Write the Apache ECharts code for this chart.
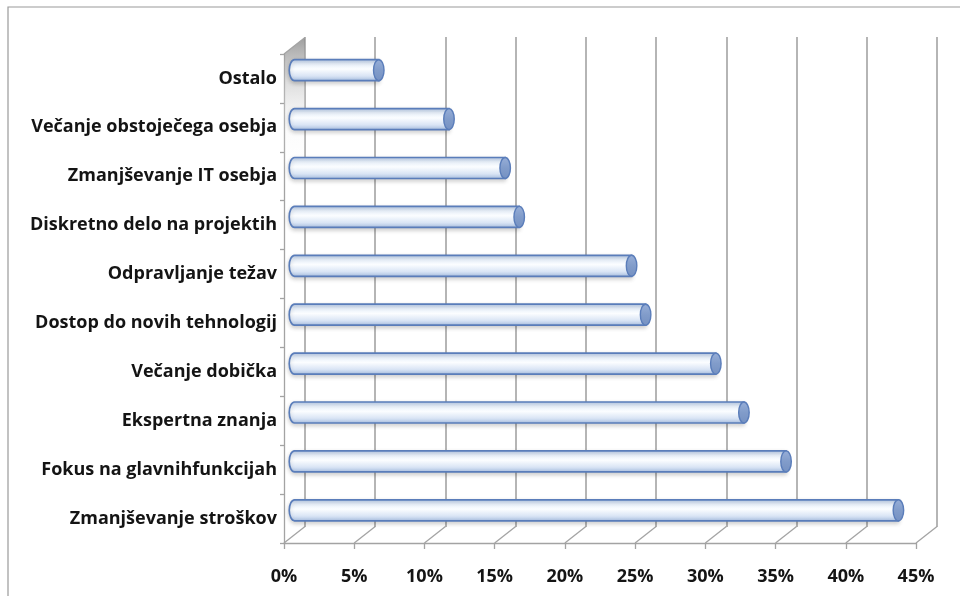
<!DOCTYPE html>
<html>
<head>
<meta charset="utf-8">
<script src="https://cdn.jsdelivr.net/npm/echarts@6/dist/echarts.min.js"></script>
<style>
  html, body { margin: 0; padding: 0; background: #ffffff; }
  #chart { width: 960px; height: 596px; }
</style>
</head>
<body>
<div id="chart"></div>
<script>
// Survey reasons, top to bottom
const categories = [
  'Ostalo',
  'Večanje obstoječega osebja',
  'Zmanjševanje IT osebja',
  'Diskretno delo na projektih',
  'Odpravljanje težav',
  'Dostop do novih tehnologij',
  'Večanje dobička',
  'Ekspertna znanja',
  'Fokus na glavnihfunkcijah',
  'Zmanjševanje stroškov'
];
// Share of respondents, percent
const values = [6, 11, 15, 16, 24, 25, 30, 32, 35, 43];
// Value axis ticks, percent
const tickValues = [0, 5, 10, 15, 20, 25, 30, 35, 40, 45];

const AXIS_MIN = 0, AXIS_MAX = 45, AXIS_STEP = 5;
// Depth offset of the back wall relative to the front plane (px)
const DEPTH_DX = 21, DEPTH_DY = -16.5;
const LINE_GRAY = '#a3a3a3';
const TEXT_COLOR = '#141414';
const FONT = '"Open Sans", "DejaVu Sans", sans-serif';

const chart = echarts.init(document.getElementById('chart'), null, { renderer: 'canvas' });

// Cylinder bar drawn at mid depth
function renderCylinder(params, api) {
  const idx = api.value(0);
  const val = api.value(1);
  const start = api.coord([0, idx]);
  const end = api.coord([val, idx]);
  const band = api.size([0, 1])[1];
  const h = band * 0.43;
  const ry = h / 2;
  const rx = ry * 0.5;
  const top = start[1] - ry, bottom = start[1] + ry;
  const x0 = start[0], x1 = end[0];
  const body = 'M' + x0 + ' ' + top + ' L' + x1 + ' ' + top + ' L' + x1 + ' ' + bottom +
    ' L' + x0 + ' ' + bottom + ' A' + rx + ' ' + ry + ' 0 0 1 ' + x0 + ' ' + top + ' Z';
  const cap = 'M' + x1 + ' ' + top + ' A' + rx + ' ' + ry + ' 0 1 1 ' + x1 + ' ' + bottom +
    ' A' + rx + ' ' + ry + ' 0 1 1 ' + x1 + ' ' + top + ' Z';
  return {
    type: 'group',
    children: [
      {
        type: 'path',
        shape: { pathData: body },
        style: {
          fill: new echarts.graphic.LinearGradient(0, 0, 0, 1, [
            { offset: 0, color: '#b1c6e6' },
            { offset: 0.22, color: '#e8f0fa' },
            { offset: 0.45, color: '#fbfdff' },
            { offset: 0.75, color: '#dae5f5' },
            { offset: 1, color: '#a5bde0' }
          ]),
          stroke: '#5a7dba',
          lineWidth: 1.7,
          shadowBlur: 4,
          shadowColor: 'rgba(0,0,0,0.18)',
          shadowOffsetY: 2
        }
      },
      {
        type: 'path',
        shape: { pathData: cap },
        style: {
          fill: new echarts.graphic.LinearGradient(0, 0, 0, 1, [
            { offset: 0, color: '#98afd8' },
            { offset: 0.5, color: '#819cca' },
            { offset: 1, color: '#7591c2' }
          ]),
          stroke: '#5a7dba',
          lineWidth: 1.4
        }
      }
    ]
  };
}

// Floor diagonals joining each front tick to the back wall
function renderFloor(params, api) {
  const v = api.value(0);
  const cs = params.coordSys;
  const x = api.coord([v, 0])[0];
  const y = cs.y + cs.height;
  return {
    type: 'line',
    shape: { x1: x, y1: y, x2: x + DEPTH_DX, y2: y + DEPTH_DY },
    style: { stroke: LINE_GRAY, lineWidth: 1.3 }
  };
}

// Left side wall with its soft shading
function renderWall(params, api) {
  const cs = params.coordSys;
  const xl = cs.x, yt = cs.y, yb = cs.y + cs.height;
  return {
    type: 'group',
    children: [
      {
        type: 'polygon',
        shape: { points: [[xl, yt], [xl + DEPTH_DX, yt + DEPTH_DY], [xl + DEPTH_DX, yb + DEPTH_DY], [xl, yb]] },
        style: {
          fill: new echarts.graphic.LinearGradient(0, 0, 0.3, 1, [
            { offset: 0, color: 'rgba(140,140,140,0.85)' },
            { offset: 0.08, color: 'rgba(185,185,185,0.55)' },
            { offset: 0.18, color: 'rgba(235,235,235,0.2)' },
            { offset: 0.3, color: 'rgba(255,255,255,0)' },
            { offset: 1, color: 'rgba(255,255,255,0)' }
          ])
        },
        silent: true
      },
      {
        type: 'line',
        shape: { x1: xl, y1: yt, x2: xl + DEPTH_DX, y2: yt + DEPTH_DY },
        style: { stroke: LINE_GRAY, lineWidth: 1.3 }
      }
    ]
  };
}

const option = {
  animation: false,
  backgroundColor: '#ffffff',
  graphic: [
    {
      type: 'rect',
      shape: { x: 8, y: 7, width: 1000, height: 700 },
      style: { fill: 'none', stroke: '#9a9a9a', lineWidth: 1.2 },
      silent: true,
      z: -10
    }
  ],
  grid: [
    // back wall
    { left: 305, right: 23, top: 37, bottom: 69 },
    // front plane
    { left: 284, right: 44, top: 54, bottom: 53 },
    // mid depth, where the cylinders sit
    { left: 294.5, right: 33.5, top: 45.75, bottom: 61.25 }
  ],
  xAxis: [
    {
      gridIndex: 0, type: 'value', min: AXIS_MIN, max: AXIS_MAX, interval: AXIS_STEP,
      axisLine: { show: false }, axisTick: { show: false }, axisLabel: { show: false },
      splitLine: { show: true, lineStyle: { color: LINE_GRAY, width: 1.6 } }
    },
    {
      gridIndex: 1, type: 'value', min: AXIS_MIN, max: AXIS_MAX, interval: AXIS_STEP,
      axisLine: { show: true, lineStyle: { color: LINE_GRAY, width: 1.3 } },
      axisTick: { show: true, length: 6, lineStyle: { color: LINE_GRAY, width: 1.3 } },
      splitLine: { show: false },
      axisLabel: {
        formatter: function (v) { return v + '%'; },
        margin: 25, color: TEXT_COLOR, fontFamily: FONT, fontWeight: 'bold', fontSize: 18
      }
    },
    {
      gridIndex: 2, type: 'value', min: AXIS_MIN, max: AXIS_MAX, interval: AXIS_STEP, show: false
    }
  ],
  yAxis: [
    { gridIndex: 0, type: 'category', data: categories, inverse: true, show: false },
    {
      gridIndex: 1, type: 'category', data: categories, inverse: true,
      axisLine: { show: true, lineStyle: { color: LINE_GRAY, width: 1.3 } },
      axisTick: { show: true, length: 4, lineStyle: { color: LINE_GRAY, width: 1.3 } },
      axisLabel: { margin: 7, color: TEXT_COLOR, fontFamily: FONT, fontWeight: 'bold', fontSize: 18 },
      splitLine: { show: false }
    },
    { gridIndex: 2, type: 'category', data: categories, inverse: true, show: false }
  ],
  series: [
    {
      type: 'custom', name: 'wall', xAxisIndex: 1, yAxisIndex: 1,
      renderItem: renderWall, data: [[0]], silent: true, z: 1
    },
    {
      type: 'custom', name: 'floor', xAxisIndex: 1, yAxisIndex: 1,
      renderItem: renderFloor, data: tickValues.map(function (t) { return [t]; }), silent: true, z: 1
    },
    {
      type: 'custom', name: 'bars', xAxisIndex: 2, yAxisIndex: 2,
      renderItem: renderCylinder,
      encode: { x: 1, y: 0 },
      data: values.map(function (v, i) { return [i, v]; }),
      z: 5
    }
  ]
};

chart.setOption(option);
</script>
</body>
</html>
